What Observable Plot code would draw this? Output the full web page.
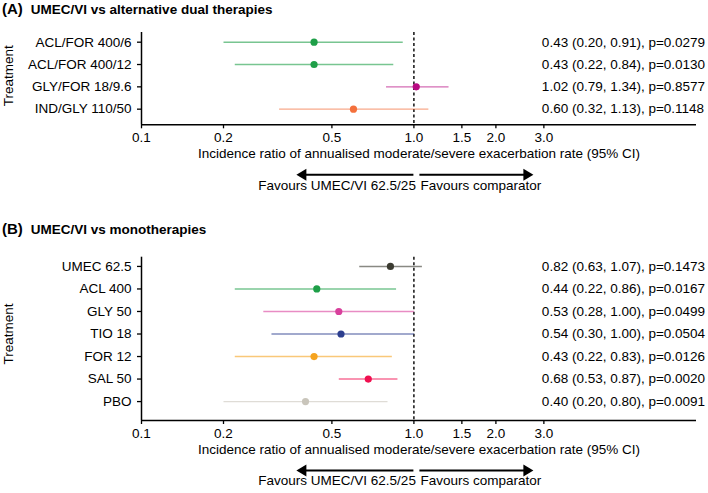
<!DOCTYPE html>
<html><head><meta charset="utf-8">
<script src="https://cdn.jsdelivr.net/npm/d3@7"></script>
<script src="https://cdn.jsdelivr.net/npm/@observablehq/plot@0.6"></script>
<style>
body{margin:0;background:#fff;font-family:"Liberation Sans",Arial,sans-serif;}
#wrap{position:relative;width:708px;height:493px;overflow:hidden;background:#fff;}
.title{position:absolute;left:2px;font-weight:bold;font-size:13.5px;color:#000;white-space:nowrap;line-height:18px;}
.title .tag{font-size:15px;margin-right:8px;}
.panel{position:absolute;left:0;}
</style></head><body>
<div id="wrap">
  <div class="title" style="top:0px"><span class="tag">(A)</span>UMEC/VI vs alternative dual therapies</div>
  <div class="panel" id="pA" style="top:0px"></div>
  <div class="title" style="top:220px"><span class="tag">(B)</span>UMEC/VI vs monotherapies</div>
  <div class="panel" id="pB" style="top:220px"></div>
</div>
<script>
// Panel A data
const dualTreatments = ["ACL/FOR 400/6", "ACL/FOR 400/12", "GLY/FOR 18/9.6", "IND/GLY 110/50"];
const dualRatio = [0.43, 0.43, 1.02, 0.60];
const dualLower = [0.20, 0.22, 0.79, 0.32];
const dualUpper = [0.91, 0.84, 1.34, 1.13];
const dualP = ["0.0279", "0.0130", "0.8577", "0.1148"];

// Panel B data
const monoTreatments = ["UMEC 62.5", "ACL 400", "GLY 50", "TIO 18", "FOR 12", "SAL 50", "PBO"];
const monoRatio = [0.82, 0.44, 0.53, 0.54, 0.43, 0.68, 0.40];
const monoLower = [0.63, 0.22, 0.28, 0.30, 0.22, 0.53, 0.20];
const monoUpper = [1.07, 0.86, 1.00, 1.00, 0.83, 0.87, 0.80];
const monoP = ["0.1473", "0.0167", "0.0499", "0.0504", "0.0126", "0.0020", "0.0091"];

// Axis ticks and texts
const xTicks = [0.1, 0.2, 0.5, 1.0, 1.5, 2.0, 3.0];
const xTitle = "Incidence ratio of annualised moderate/severe exacerbation rate (95% CI)";
const favoursLeft = "Favours UMEC/VI 62.5/25";
const favoursRight = "Favours comparator";
const yTitle = "Treatment";

// Colours (styling)
const dualColors = ["#1e9f48", "#1e9f48", "#b80a82", "#f4703c"];
const monoColors = ["#3b3b31", "#1e9f48", "#d8409c", "#2d3f8f", "#f5a31f", "#f01050", "#c9c5bb"];

function favoursArrows(index, scales, values, dims) {
  const cx = scales.x(1);
  const y = dims.height - dims.marginBottom + 50.5;
  const g = d3.create("svg:g").attr("fill", "#000").attr("stroke", "#000");
  const L = 10, H = 6;
  g.append("line").attr("x1", cx).attr("x2", cx - 110).attr("y1", y).attr("y2", y).attr("stroke-width", 2);
  g.append("path").attr("stroke", "none")
    .attr("d", `M${cx - 117},${y}L${cx - 117 + L},${y - H}L${cx - 117 + L},${y + H}Z`);
  g.append("line").attr("x1", cx + 6).attr("x2", cx + 113).attr("y1", y).attr("y2", y).attr("stroke-width", 2);
  g.append("path").attr("stroke", "none")
    .attr("d", `M${cx + 120},${y}L${cx + 120 - L},${y - H}L${cx + 120 - L},${y + H}Z`);
  return g.node();
}

function forest({names, ratio, lower, upper, p, colors, height, marginTop, marginBottom, padTop, padBottom, titleDy, favDy}) {
  const n = names.length;
  const rows = names.map((name, i) => ({name, i, ratio: ratio[i], lower: lower[i], upper: upper[i], p: p[i], color: colors[i]}));
  const label = d => `${d.ratio.toFixed(2)} (${d.lower.toFixed(2)}, ${d.upper.toFixed(2)}), p=${d.p}`;
  const yBottom = n - 1 + padBottom;
  return Plot.plot({
    width: 708, height, marginLeft: 141, marginRight: 12, marginTop, marginBottom,
    style: {fontFamily: "'Liberation Sans', Arial, sans-serif", fontSize: "13.5px", color: "#000", background: "transparent", overflow: "visible"},
    x: {type: "log", domain: [0.1, 10.9]},
    y: {type: "linear", domain: [yBottom, -padTop]},
    marks: [
      Plot.axisX({ticks: xTicks, tickFormat: d => d.toFixed(1), tickSize: 4, tickPadding: 4, label: null, strokeWidth: 1.3}),
      Plot.axisY({ticks: d3.range(n), tickFormat: i => names[i], tickSize: 4, tickPadding: 6, label: null, strokeWidth: 1.3}),
      Plot.ruleX([0.1], {stroke: "#000", strokeWidth: 1.5}),
      Plot.ruleY([yBottom], {stroke: "#000", strokeWidth: 1.5}),
      Plot.ruleX([1], {stroke: "#000", strokeDasharray: "3,2.5", strokeWidth: 1.4}),
      Plot.link(rows, {x1: "lower", x2: "upper", y1: "i", y2: "i", stroke: d => d.color, strokeOpacity: 0.6, strokeWidth: 1.4}),
      Plot.dot(rows, {x: "ratio", y: "i", fill: d => d.color, r: 3.6}),
      Plot.text(rows, {x: 3, y: "i", text: label, textAnchor: "start", dx: -2, fill: "#000"}),
      Plot.text([yTitle], {text: d => d, y: (n - 1) / 2, frameAnchor: "left", textAnchor: "middle", dx: -133, rotate: -90, fill: "#000"}),
      Plot.text([xTitle], {text: d => d, frameAnchor: "bottom", dy: titleDy, fill: "#000"}),
      Plot.text([favoursLeft], {text: d => d, x: 1, frameAnchor: "bottom", dy: favDy, dx: 2, textAnchor: "end", fill: "#000"}),
      Plot.text([favoursRight], {text: d => d, x: 1, frameAnchor: "bottom", dy: favDy, dx: 6.5, textAnchor: "start", fill: "#000"}),
      favoursArrows
    ]
  });
}

document.getElementById("pA").append(forest({
  names: dualTreatments, ratio: dualRatio, lower: dualLower, upper: dualUpper, p: dualP, colors: dualColors,
  height: 200, marginTop: 32, marginBottom: 75.7, padTop: 0.434, padBottom: 0.70, titleDy: 33, favDy: 64.7
}));
document.getElementById("pB").append(forest({
  names: monoTreatments, ratio: monoRatio, lower: monoLower, upper: monoUpper, p: monoP, colors: monoColors,
  height: 273, marginTop: 36.7, marginBottom: 73, padTop: 0.41, padBottom: 0.84, titleDy: 33, favDy: 64
}));
</script>
</body></html>
